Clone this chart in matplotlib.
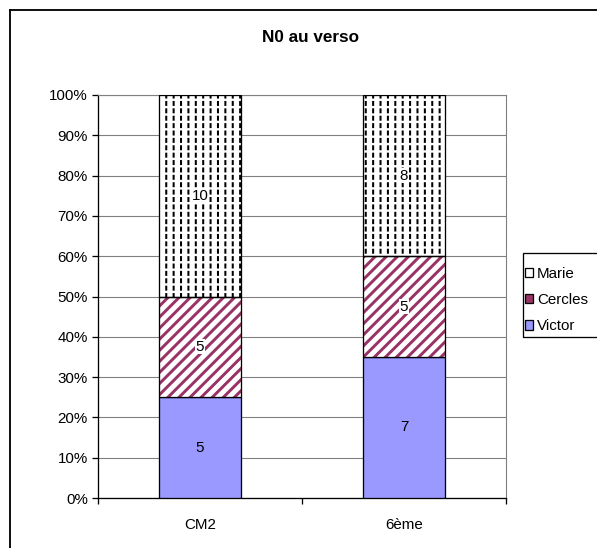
import matplotlib
matplotlib.use("Agg")
import matplotlib.pyplot as plt
import numpy as np
from matplotlib.patches import Patch, Rectangle
from matplotlib.lines import Line2D
from matplotlib.ticker import FuncFormatter

categories = ["CM2", "6ème"]
series_names = ["Victor", "Cercles", "Marie"]
victor = [5, 7]
cercles = [5, 5]
marie = [10, 8]
title = "N0 au verso"

plt.rcParams['font.family'] = ['Liberation Sans', 'DejaVu Sans']

DPI = 133
fig = plt.figure(figsize=(597 / DPI, 548 / DPI), dpi=DPI)
W, H = 597, 548
ax = fig.add_axes([98 / W, 1 - 498 / H, (506 - 98) / W, (498 - 95) / H])

counts = np.array([victor, cercles, marie], dtype=float)
totals = counts.sum(axis=0)
pct = counts / totals * 100
x = np.arange(len(categories))
bw = 0.4

blue = "#9999FF"
maroon = "#993366"

bottoms = np.zeros(len(categories))
# Victor
ax.bar(x, pct[0], bw, bottom=bottoms, color=blue, edgecolor="black", linewidth=0.7, zorder=3)
b1 = bottoms + pct[0]
# Cercles: hatched stripes
plt.rcParams['hatch.linewidth'] = 1.6
ax.bar(x, pct[1], bw, bottom=b1, facecolor="white", edgecolor=maroon, hatch="////", linewidth=0, zorder=3)
b2 = b1 + pct[1]
# Marie: dashed vertical lines
plt.rcParams['hatch.linewidth'] = 1.1
ax.bar(x, pct[2], bw, bottom=b2, facecolor="white", edgecolor="black", hatch="|||", linewidth=0, zorder=3)
plt.rcParams['hatch.linewidth'] = 1.3
over = ax.bar(x, pct[2], bw, bottom=b2, facecolor="none", edgecolor="white", hatch="---", linewidth=0, zorder=3.5)
for p in over:
    if hasattr(p, "set_hatch_linewidth"):
        p.set_hatch_linewidth(1.3)
# outlines
ax.bar(x, pct[1], bw, bottom=b1, facecolor="none", edgecolor="black", linewidth=0.7, zorder=4)
ax.bar(x, pct[2], bw, bottom=b2, facecolor="none", edgecolor="black", linewidth=0.7, zorder=4)

# value labels
fs = 8.2
for i in range(len(categories)):
    ax.text(x[i], pct[0][i] / 2, f"{int(victor[i])}", ha="center", va="center", fontsize=fs, zorder=6)
    ax.text(x[i], b1[i] + pct[1][i] / 2, f"{int(cercles[i])}", ha="center", va="center", fontsize=fs, zorder=6,
            bbox=dict(facecolor="white", edgecolor="none", pad=0.3))
    ax.text(x[i], b2[i] + pct[2][i] / 2, f"{int(marie[i])}", ha="center", va="center", fontsize=fs, zorder=6,
            bbox=dict(facecolor="white", edgecolor="none", pad=0.3))

ax.set_xlim(-0.5, len(categories) - 0.5)
ax.set_ylim(0, 100)
ax.set_yticks(np.arange(0, 101, 10))
ax.yaxis.set_major_formatter(FuncFormatter(lambda v, p: f"{int(v)}%"))
ax.yaxis.grid(True, color="#808080", linewidth=0.6, zorder=0)
ax.set_axisbelow(True)
ax.tick_params(axis="y", direction="out", length=3.5, width=0.7, labelsize=fs, pad=2)

ax.set_xticks(np.arange(len(categories) + 1) - 0.5)
ax.set_xticklabels([])
ax.set_xticks(x, minor=True)
ax.set_xticklabels(categories, minor=True)
ax.tick_params(axis="x", which="major", direction="out", length=3.5, width=0.7)
ax.tick_params(axis="x", which="minor", length=0, labelsize=fs, pad=11)

for s in ["top", "right"]:
    ax.spines[s].set_color("#808080")
    ax.spines[s].set_linewidth(0.6)
for s in ["left", "bottom"]:
    ax.spines[s].set_color("black")
    ax.spines[s].set_linewidth(0.7)

fig.text(310 / W, 1 - 37 / H, title, ha="center", va="center", fontsize=9.3, fontweight="bold")

handles = [
    Patch(facecolor="white", edgecolor="black", linewidth=0.7),
    Patch(facecolor=maroon, edgecolor="black", linewidth=0.7),
    Patch(facecolor=blue, edgecolor="black", linewidth=0.7),
]
leg = fig.legend(handles, ["Marie", "Cercles", "Victor"], loc="center left",
                 bbox_to_anchor=(525 / W, 1 - 300 / H), bbox_transform=fig.transFigure,
                 fontsize=fs, frameon=False, borderaxespad=0,
                 handlelength=0.55, handleheight=0.55, handletextpad=0.25,
                 labelspacing=0.82, borderpad=0)
# legend frame (extends past the right edge of the figure)
fig.add_artist(Rectangle((523 / W, 1 - 337 / H), 80 / W, 84 / H, transform=fig.transFigure,
                         facecolor="none", edgecolor="black", linewidth=0.7))

# outer chart border
fig.add_artist(Line2D([10 / W, 1.0], [1 - 10 / H, 1 - 10 / H], transform=fig.transFigure, color="black", linewidth=1.0))
fig.add_artist(Line2D([10 / W, 10 / W], [0.0, 1 - 10 / H], transform=fig.transFigure, color="black", linewidth=1.0))

fig.savefig("out.png", dpi=DPI)
